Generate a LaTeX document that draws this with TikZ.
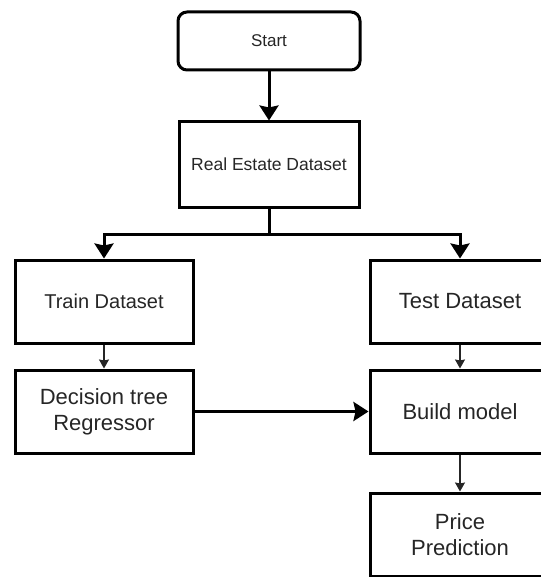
\documentclass[tikz,border=0pt]{standalone}
\usepackage{fontspec}
\setmainfont{Liberation Sans}
\usepackage{tikz}
\usetikzlibrary{arrows.meta, positioning}

\begin{document}
\begin{tikzpicture}[x=1pt,y=-1pt]
        \useasboundingbox (0,0) rectangle (540,577);
        \begin{scope}[every node/.style={draw=black,line width=3pt,fill=white,text=black!85,inner sep=0pt,align=center,minimum width=180pt,minimum height=83pt,font=\fontsize{22}{25}\selectfont}]
          \node[rounded corners=9pt,minimum width=182pt,minimum height=58pt,font=\fontsize{17}{19}\selectfont] (start) at (269,41) {Start};
          \node[minimum height=85pt,font=\fontsize{17.5}{19}\selectfont] (data) at (269,164.5) {Real Estate Dataset};
          \node[minimum width=178pt,font=\fontsize{20}{23}\selectfont] (train) at (104,301.5) {Train Dataset};
          \node (test) at (460,301.5) {Test Dataset};
          \node[minimum width=178pt] (tree) at (104,411.5) {Decision tree\\[1pt]Regressor};
          \node (build) at (460,411.5) {Build model};
          \node (price) at (460,534.5) {Price\\[1pt]Prediction};
        \end{scope}
        \draw[line width=3pt] (data.south) -- ++(0,26) coordinate (split);
        \begin{scope}[every edge/.style={draw=black,line width=3pt,-{Stealth[inset=2pt,length=15pt,width=19pt]}}]
          \path (start) edge (data);
          \path (split) edge[to path={-| (\tikztotarget)}] (train);
          \path (split) edge[to path={-| (\tikztotarget)}] (test);
          \path (tree) edge (build);
        \end{scope}
        \begin{scope}[every edge/.style={draw=black!85,line width=1.3pt,-{Stealth[inset=1pt,length=9pt,width=10pt]}}]
          \path (train) edge (tree);
          \path (test) edge (build);
          \path (build) edge (price);
        \end{scope}
      \end{tikzpicture}
\end{document}
